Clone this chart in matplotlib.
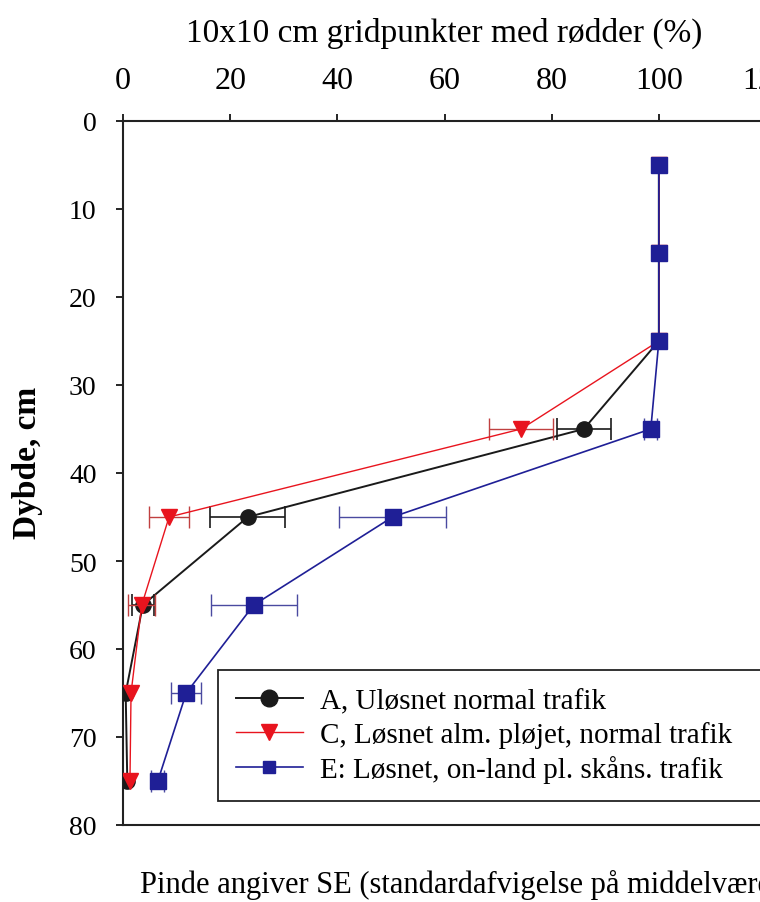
import matplotlib
matplotlib.use("Agg")
import matplotlib.pyplot as plt
from matplotlib.lines import Line2D

plt.rcParams['font.family'] = ['Liberation Serif', 'DejaVu Serif']

depth = [5, 15, 25, 35, 45, 55, 65, 75]

a_val = [100, 100, 100, 86, 23.3, 3.7, 0.5, 0.8]
a_se = [0, 0, 0, 5, 7, 2, 0, 0]

c_val = [100, 100, 100, 74.3, 8.6, 3.5, 1.5, 1.3]
c_se = [0, 0, 0, 6, 3.8, 2.5, 0, 0]

e_val = [100, 100, 100, 98.5, 50.3, 24.4, 11.8, 6.5]
e_se = [0, 0, 0, 1.2, 10, 8, 2.8, 1.2]

labels = ["A, Uløsnet normal trafik",
          "C, Løsnet alm. pløjet, normal trafik",
          "E: Løsnet, on-land pl. skåns. trafik"]

x_ticks = [0, 20, 40, 60, 80, 100, 120]
y_ticks = [0, 10, 20, 30, 40, 50, 60, 70, 80]

W, H = 760, 903
fig = plt.figure(figsize=(W / 100, H / 100), dpi=100)
ax = fig.add_axes([123 / W, 1 - 826 / H, (766 - 123) / W, (826 - 122) / H])

black = '#1a1a1a'
red = '#e8141e'
blue = '#1f1f96'

series = [
    (a_val, a_se, black, black, 'o', 11, 1.4, 1.2, 3),
    (c_val, c_se, red, '#c04040', 'v', 11, 1.0, 1.0, 4),
    (e_val, e_se, blue, '#4a4aa0', 's', 12, 1.2, 1.0, 5),
]
for vals, se, col, ecol, mk, ms, lw, elw, z in series:
    ax.plot(vals, depth, color=col, marker=mk, markersize=ms, lw=lw, zorder=z)
    xs = [v for v, s in zip(vals, se) if s > 0]
    ys = [d for d, s in zip(depth, se) if s > 0]
    es = [s for s in se if s > 0]
    ax.errorbar(xs, ys, xerr=es, fmt='none', ecolor=ecol, capsize=8,
                elinewidth=elw, capthick=elw, zorder=z - 0.5)

ax.set_xlim(0, 120)
ax.set_ylim(80, 0)
ax.set_xticks(x_ticks)
ax.set_yticks(y_ticks)
ax.xaxis.tick_top()
ax.xaxis.set_label_position('top')
ax.tick_params(axis='both', length=5, width=1.2, direction='out')
ax.tick_params(axis='x', labelsize=23, pad=14)
ax.tick_params(axis='y', labelsize=20, pad=14)
ax.set_xlabel("10x10 cm gridpunkter med rødder (%)", fontsize=24, labelpad=18)
ax.set_ylabel("Dybde, cm", fontsize=24, fontweight='bold')
ax.yaxis.set_label_coords(-(123 - 43) / 643, 1 - (463 - 122) / 704)
ax.spines['right'].set_visible(False)
for s in ['top', 'left', 'bottom']:
    ax.spines[s].set_linewidth(1.5)
    ax.spines[s].set_color('#222222')

handles = [
    Line2D([], [], color=black, marker='o', markersize=12, lw=1.4),
    Line2D([], [], color=red, marker='v', markersize=11, lw=1.0),
    Line2D([], [], color=blue, marker='s', markersize=9, lw=1.2),
]
leg = ax.legend(handles, labels, loc='upper left',
                bbox_to_anchor=(218 / W, 1 - 671 / H, (800 - 218) / W, 0),
                mode='expand',
                bbox_transform=fig.transFigure, fontsize=21, frameon=True,
                fancybox=False, edgecolor='#222222', framealpha=1,
                handlelength=2.3, labelspacing=0.25, borderpad=0.6, handletextpad=0.6,
                borderaxespad=0)
leg.get_frame().set_linewidth(1.3)

fig.text(140 / W, 1 - 885 / H, "Pinde angiver SE (standardafvigelse på middelværdi)",
         fontsize=22, ha='left', va='center')

fig.savefig("out.png", dpi=100)
